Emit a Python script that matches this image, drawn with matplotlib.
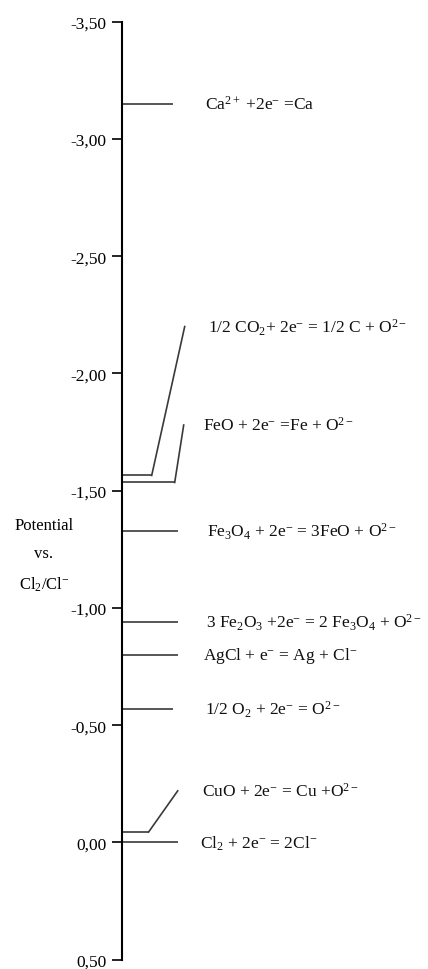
"""
Electrochemical series vs. Cl2/Cl- reference, drawn as a level diagram.
"""

import matplotlib
matplotlib.use("Agg")
import matplotlib.pyplot as plt
from matplotlib.ticker import FuncFormatter

plt.rcParams["font.family"] = ["Liberation Serif", "DejaVu Serif"]
plt.rcParams["mathtext.fontset"] = "custom"
plt.rcParams["mathtext.rm"] = "Liberation Serif"
plt.rcParams["mathtext.it"] = "Liberation Serif:italic"
plt.rcParams["mathtext.default"] = "rm"

# reactions and their potentials (V vs Cl2/Cl-)
REACTIONS = [
    r"Ca$^{2+}$ +2e$^{-}$ =Ca",
    r"1/2 CO$_2$+ 2e$^{-}$ = 1/2 C + O$^{2-}$",
    r"FeO + 2e$^{-}$ =Fe + O$^{2-}$",
    r"Fe$_3$O$_4$ + 2e$^{-}$ = 3FeO + O$^{2-}$",
    r"3 Fe$_2$O$_3$ +2e$^{-}$ = 2 Fe$_3$O$_4$ + O$^{2-}$",
    r"AgCl + e$^{-}$ = Ag + Cl$^{-}$",
    r"1/2 O$_2$ + 2e$^{-}$ = O$^{2-}$",
    r"CuO + 2e$^{-}$ = Cu +O$^{2-}$",
    r"Cl$_2$ + 2e$^{-}$ = 2Cl$^{-}$",
]
POTENTIALS = [-3.15, -1.565, -1.535, -1.33, -0.94, -0.80, -0.57, -0.045, 0.00]
# where each label sits (same as the level unless a connector is used)
LABEL_POTENTIALS = [-3.15, -2.20, -1.78, -1.33, -0.94, -0.80, -0.57, -0.22, 0.00]

TICKS = [-3.5, -3.0, -2.5, -2.0, -1.5, -1.0, -0.5, 0.0, 0.5]

# layout (x in pixels from the axis line)
LEVEL_LEN = [51, 30, 53, 56, 56, 56, 51, 27, 56]
CONNECT_END = [None, 63, 62, None, None, None, None, 56, None]
LABEL_X = [83, 86, 81, 85, 84, 81, 83, 80, 78]
LINE_COLOR = "#3a3a3a"


def main():
    fig = plt.figure(figsize=(4.28, 9.70), dpi=100)
    ax = fig.add_axes([121.7 / 428, 1 - 960.7 / 970, 1 - 121.7 / 428, (960.7 - 22.7) / 970])

    ax.set_ylim(0.5, -3.5)
    ax.set_xlim(0, 428 - 121.7)
    ax.set_yticks(TICKS)
    ax.yaxis.set_major_formatter(FuncFormatter(lambda v, p: f"{v:.2f}".replace(".", ",")))
    ax.tick_params(axis="y", direction="out", length=7, width=1.2, labelsize=12.5, pad=4)
    ax.set_xticks([])
    for s in ["top", "right", "bottom"]:
        ax.spines[s].set_visible(False)
    ax.spines["left"].set_linewidth(1.5)

    for i, (lab, pot) in enumerate(zip(REACTIONS, POTENTIALS)):
        ax.plot([0, LEVEL_LEN[i]], [pot, pot], color=LINE_COLOR, lw=1.2,
                solid_capstyle="butt", clip_on=False)
        if CONNECT_END[i] is not None:
            ax.plot([LEVEL_LEN[i], CONNECT_END[i]], [pot, LABEL_POTENTIALS[i]],
                    color=LINE_COLOR, lw=1.2)
        ax.text(LABEL_X[i], LABEL_POTENTIALS[i], lab, fontsize=12.5,
                va="center", ha="left", color="#111111")

    fig.text(44 / 428, 1 - 556 / 970, "Potential\nvs.\nCl$_2$/Cl$^{-}$",
             ha="center", va="center", fontsize=12, linespacing=2.0)

    fig.savefig("out.png", dpi=100)


if __name__ == "__main__":
    main()
